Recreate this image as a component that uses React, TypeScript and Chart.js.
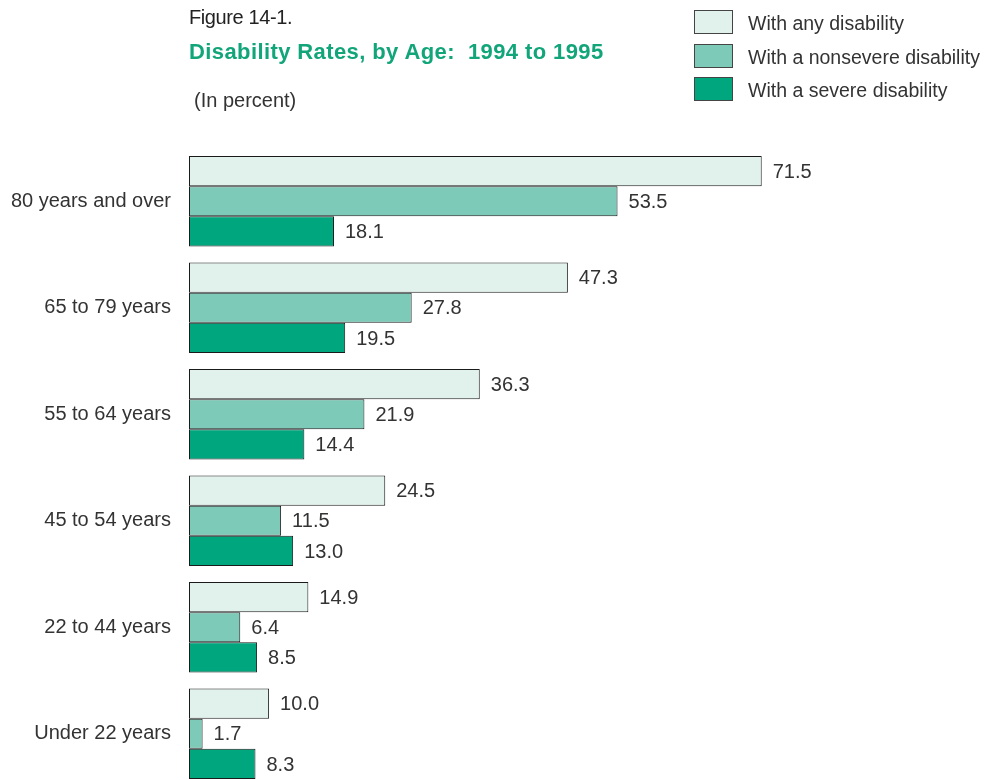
import React, { useEffect, useRef } from "react";
import { Chart, registerables } from "chart.js";

Chart.register(...registerables);

const ageGroups = [
  "80 years and over",
  "65 to 79 years",
  "55 to 64 years",
  "45 to 54 years",
  "22 to 44 years",
  "Under 22 years",
];

const anyDisability = [71.5, 47.3, 36.3, 24.5, 14.9, 10.0];
const nonsevereDisability = [53.5, 27.8, 21.9, 11.5, 6.4, 1.7];
const severeDisability = [18.1, 19.5, 14.4, 13.0, 8.5, 8.3];

const seriesNames = [
  "With any disability",
  "With a nonsevere disability",
  "With a severe disability",
];
const seriesColors = ["#e1f2ec", "#7ecab8", "#00a67e"];

const FONT = "'Liberation Sans', Arial, Helvetica, sans-serif";
const TEXT = "#333333";

// Writes each bar's value just past its end.
const valueLabels = {
  id: "valueLabels",
  afterDatasetsDraw(chart: any) {
    const ctx = chart.ctx;
    ctx.save();
    ctx.font = `20px ${FONT}`;
    ctx.fillStyle = TEXT;
    ctx.textAlign = "left";
    ctx.textBaseline = "middle";
    chart.data.datasets.forEach((ds: any, i: number) => {
      const meta = chart.getDatasetMeta(i);
      meta.data.forEach((bar: any, j: number) => {
        const v = ds.data[j] as number;
        ctx.fillText(v.toFixed(1), bar.x + 11, bar.y + 1);
      });
    });
    ctx.restore();
  },
};

export default function App() {
  const canvasRef = useRef<HTMLCanvasElement | null>(null);

  useEffect(() => {
    if (!canvasRef.current) return;
    const chart = new Chart(canvasRef.current, {
      type: "bar",
      data: {
        labels: ageGroups,
        datasets: [anyDisability, nonsevereDisability, severeDisability].map(
          (data, i) => ({
            label: seriesNames[i],
            data,
            backgroundColor: seriesColors[i],
            borderColor: "#1a1a1a",
            borderWidth: 1,
            borderSkipped: false,
            barPercentage: 1,
            categoryPercentage: 0.852,
          })
        ),
      },
      options: {
        indexAxis: "y",
        animation: false,
        responsive: false,
        maintainAspectRatio: false,
        layout: { padding: { top: 148, bottom: 11, right: 5, left: 0 } },
        plugins: {
          legend: { display: false },
          tooltip: { enabled: false },
        },
        scales: {
          x: { display: false, min: 0, max: 100 },
          y: {
            type: "category",
            grid: { display: false, drawTicks: false },
            border: { display: false },
            ticks: {
              font: { size: 20, family: FONT },
              color: TEXT,
              padding: 18,
            },
            afterFit(scale: any) {
              scale.width = 189;
            },
          },
        },
      },
      plugins: [valueLabels],
    });
    return () => chart.destroy();
  }, []);

  return (
    <div
      style={{
        position: "absolute",
        left: 0,
        top: 0,
        width: 995,
        height: 780,
        overflow: "hidden",
        background: "#ffffff",
        fontFamily: FONT,
      }}
    >
      <canvas
        ref={canvasRef}
        width={995}
        height={817}
        style={{ position: "absolute", left: 0, top: 0, display: "block" }}
      />
      <div
        style={{
          position: "absolute",
          left: 189,
          top: 5,
          fontSize: 20,
          lineHeight: "24px",
          letterSpacing: "-0.4px",
          color: "#222222",
        }}
      >
        Figure 14-1.
      </div>
      <div
        style={{
          position: "absolute",
          left: 189,
          top: 39,
          fontSize: 22,
          lineHeight: "26px",
          fontWeight: "bold",
          letterSpacing: "0.4px",
          color: "#12a57a",
          whiteSpace: "pre",
        }}
      >
        {"Disability Rates, by Age:  1994 to 1995"}
      </div>
      <div
        style={{
          position: "absolute",
          left: 194,
          top: 88,
          fontSize: 20,
          lineHeight: "24px",
          color: TEXT,
        }}
      >
        (In percent)
      </div>
      {seriesNames.map((name, i) => (
        <div key={name}>
          <div
            style={{
              position: "absolute",
              left: 694,
              top: 10 + i * 33.5,
              width: 37,
              height: 22,
              background: seriesColors[i],
              border: "1px solid #444444",
            }}
          />
          <div
            style={{
              position: "absolute",
              left: 748,
              top: 11 + i * 33.5,
              fontSize: 19.5,
              lineHeight: "24px",
              color: TEXT,
              whiteSpace: "nowrap",
            }}
          >
            {name}
          </div>
        </div>
      ))}
    </div>
  );
}
